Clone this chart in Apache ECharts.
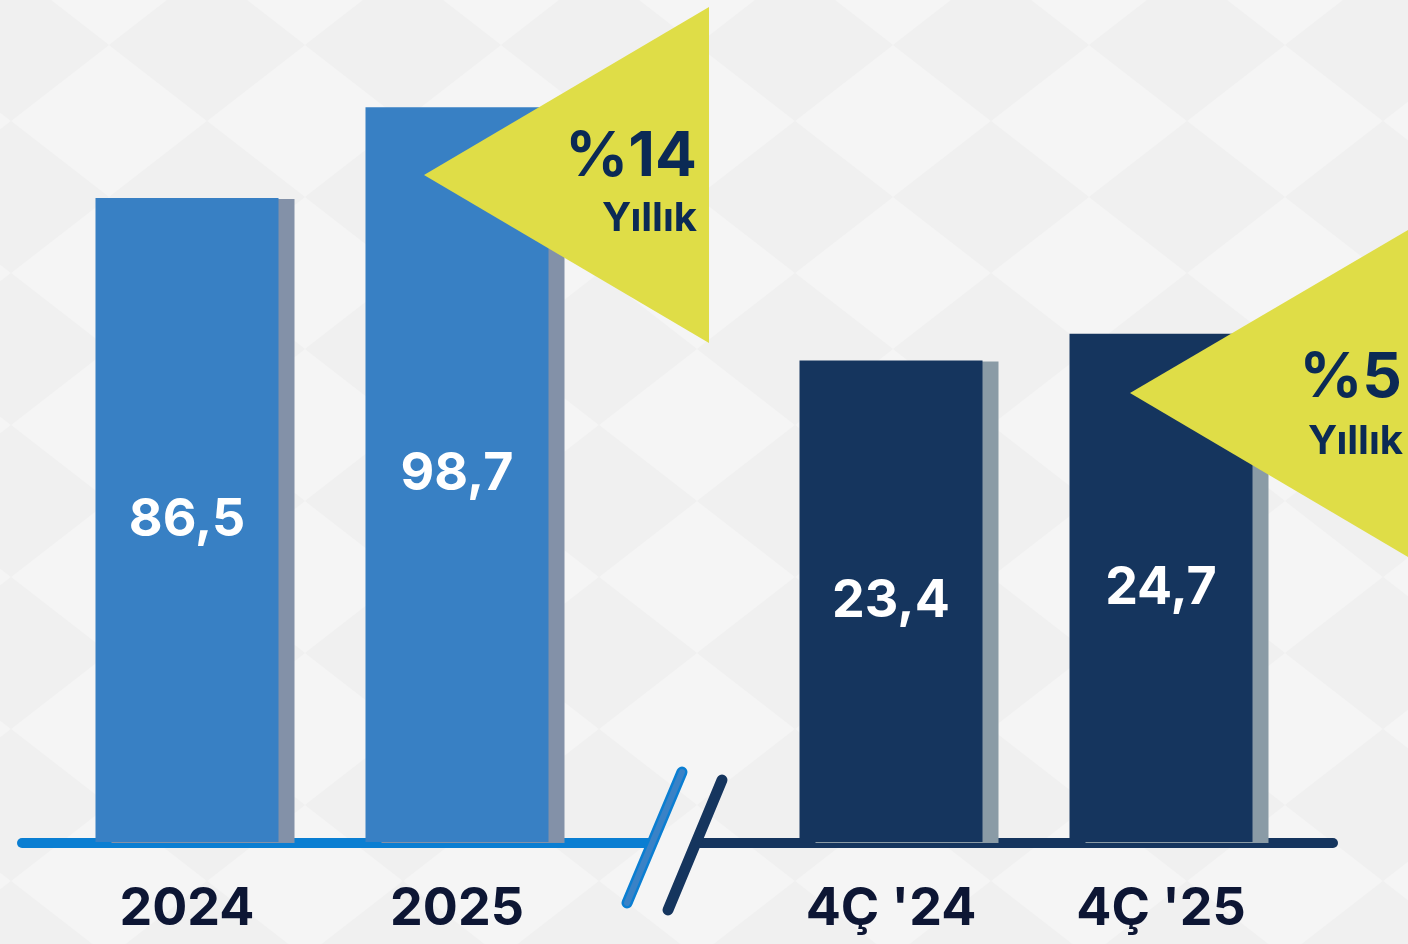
<!DOCTYPE html>
<html>
<head>
<meta charset="utf-8">
<script src="https://cdn.jsdelivr.net/npm/echarts@6/dist/echarts.min.js"></script>
<style>
html,body{margin:0;padding:0;width:1408px;height:944px;overflow:hidden;}
body{
  background-color:#f0f0f0;
  background-image:url("data:image/svg+xml;utf8,<svg xmlns='http://www.w3.org/2000/svg' width='196' height='152'><rect width='196' height='152' fill='%23f0f0f0'/><polygon points='0,0 98,76 0,152' fill='%23f5f5f5'/><polygon points='196,0 98,76 196,152' fill='%23f5f5f5'/></svg>");
  background-position:109px 45px;
}
#chart{width:1408px;height:944px;}
</style>
</head>
<body>
<div id="chart"></div>
<script>
// ---- data ----
const annualCategories = ['2024', '2025'];
const annualValues = [86.5, 98.7];
const quarterCategories = ["4Ç '24", "4Ç '25"];
const quarterValues = [23.4, 24.7];
const growthLabels = ['%14', '%5'];
const growthSubLabel = 'Yıllık';

const FONT = 'Inter, "Noto Sans", sans-serif';
const fmt = p => String(p.value).replace('.', ',');

const chart = echarts.init(document.getElementById('chart'), null, {renderer: 'canvas'});

const catAxis = (gridIndex, data) => ({
  type: 'category', gridIndex, data,
  axisLine: {show: false}, axisTick: {show: false},
  axisLabel: {fontFamily: FONT, fontSize: 52, fontWeight: 700, color: '#0D1634', margin: 41, lineHeight: 52}
});
const valAxis = (gridIndex, max) => ({
  type: 'value', gridIndex, min: 0, max, show: false,
  splitLine: {show: false}
});
const barSeries = (idx, data, color, shadow) => ({
  type: 'bar', xAxisIndex: idx, yAxisIndex: idx, data,
  barWidth: 183, z: 2,
  itemStyle: {color, shadowColor: shadow, shadowOffsetX: 16, shadowOffsetY: 1, shadowBlur: 0},
  label: {show: true, position: 'inside', formatter: fmt, fontFamily: FONT, fontSize: 52, fontWeight: 700, color: '#ffffff', textBorderWidth: 0},
  emphasis: {disabled: true}
});

const triColor = '#DFDD47';
const txtColor = '#0B2A55';

chart.setOption({
  animation: false,
  backgroundColor: 'transparent',
  grid: [
    {left: 52, width: 540, top: 23, bottom: 102},
    {left: 756, width: 540, top: 23, bottom: 102}
  ],
  xAxis: [catAxis(0, annualCategories), catAxis(1, quarterCategories)],
  yAxis: [valAxis(0, 110), valAxis(1, 39.8)],
  series: [
    barSeries(0, annualValues, '#3880C4', '#8391A8'),
    barSeries(1, quarterValues, '#15355E', '#8A9BA6')
  ],
  graphic: [
    // baselines
    {type: 'line', z: 1, shape: {x1: 22, y1: 843, x2: 652, y2: 843}, style: {stroke: '#0A7ED2', lineWidth: 10, lineCap: 'round'}},
    {type: 'line', z: 1, shape: {x1: 700, y1: 843, x2: 1333, y2: 843}, style: {stroke: '#15355E', lineWidth: 10, lineCap: 'round'}},
    // axis break marks
    {type: 'line', z: 5, shape: {x1: 627, y1: 903, x2: 682, y2: 772}, style: {stroke: '#0A7ED2', lineWidth: 11, lineCap: 'round'}},
    {type: 'line', z: 6, shape: {x1: 627, y1: 903, x2: 682, y2: 772}, style: {stroke: '#3A82C6', lineWidth: 6, lineCap: 'round'}},
    {type: 'line', z: 5, shape: {x1: 668, y1: 910, x2: 722, y2: 780}, style: {stroke: '#15355E', lineWidth: 11, lineCap: 'round'}},
    // growth callouts
    {type: 'polygon', z: 10, shape: {points: [[424, 175], [709, 7], [709, 343]]}, style: {fill: triColor}},
    {type: 'text', z: 11, style: {x: 697, y: 157, text: growthLabels[0], fill: txtColor, font: '700 62px ' + FONT, textAlign: 'right', textVerticalAlign: 'middle'}},
    {type: 'text', z: 11, style: {x: 697, y: 219, text: growthSubLabel, fill: txtColor, font: '700 40px ' + FONT, textAlign: 'right', textVerticalAlign: 'middle'}},
    {type: 'polygon', z: 10, shape: {points: [[1130, 393], [1420, 223], [1420, 564]]}, style: {fill: triColor}},
    {type: 'text', z: 11, style: {x: 1402, y: 378, text: growthLabels[1], fill: txtColor, font: '700 62px ' + FONT, textAlign: 'right', textVerticalAlign: 'middle'}},
    {type: 'text', z: 11, style: {x: 1403, y: 442, text: growthSubLabel, fill: txtColor, font: '700 40px ' + FONT, textAlign: 'right', textVerticalAlign: 'middle'}}
  ]
});
</script>
</body>
</html>
